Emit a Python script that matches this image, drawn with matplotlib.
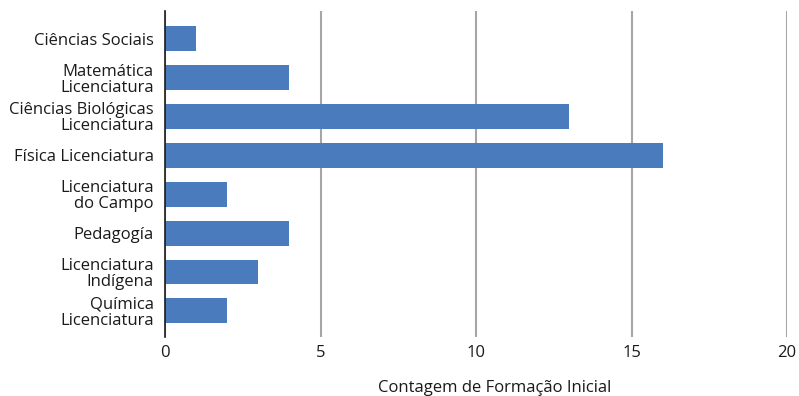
import matplotlib
matplotlib.use('Agg')
import matplotlib.pyplot as plt

categories = [
    'Ciências Sociais',
    'Matemática\nLicenciatura',
    'Ciências Biológicas\nLicenciatura',
    'Física Licenciatura',
    'Licenciatura\ndo Campo',
    'Pedagogía',
    'Licenciatura\nIndígena',
    'Química\nLicenciatura',
]
counts = [1, 4, 13, 16, 2, 4, 3, 2]
xticks = [0, 5, 10, 15, 20]

plt.rcParams['font.family'] = ['Open Sans', 'DejaVu Sans']

fig = plt.figure(figsize=(7.99, 3.96), dpi=100)
ax = fig.add_axes([165 / 799, 1 - 337 / 396, 622 / 799, 326 / 396])

pos = list(range(len(categories)))
ax.barh(pos, counts, height=0.64, color='#4a7bbd', zorder=3)
ax.set_ylim(7.67, -0.71)
ax.set_yticks(pos)
ax.set_yticklabels(categories, fontsize=12, color='#1a1a1a', linespacing=1.0)

ax.set_xlim(0, 20)
ax.set_xticks(xticks)
ax.set_xticklabels([str(t) for t in xticks], fontsize=12, color='#1a1a1a')
ax.xaxis.grid(True, color='#a6a6a6', linewidth=1.5, zorder=0)
ax.tick_params(axis='both', length=0)
ax.tick_params(axis='y', pad=8)
ax.tick_params(axis='x', pad=6)

for side in ['top', 'right', 'bottom']:
    ax.spines[side].set_visible(False)
ax.spines['left'].set_color('#1a1a1a')
ax.spines['left'].set_linewidth(1.2)
ax.spines['left'].set_zorder(4)

ax.set_xlabel('Contagem de Formação Inicial', fontsize=12, color='#1a1a1a', va='center')
ax.xaxis.set_label_coords(0.53, -(388 - 337) / 326)

fig.savefig('out.png', dpi=100)
